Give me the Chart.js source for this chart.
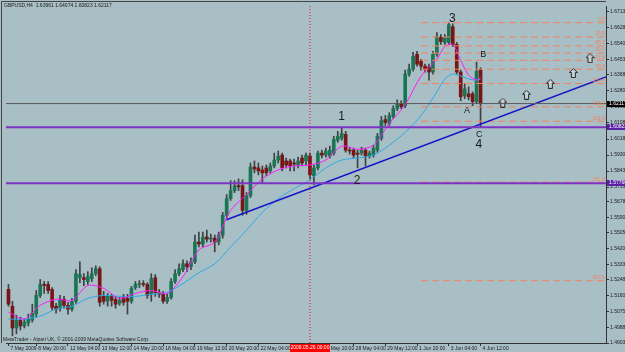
<!DOCTYPE html>
<html>
<head>
<meta charset="utf-8">
<script src="https://cdn.jsdelivr.net/npm/chart.js@4.4.1/dist/chart.umd.min.js"></script>
<style>
  html, body { margin: 0; padding: 0; background: #a9bfc6; }
  canvas { display: block; }
</style>
</head>
<body>
<canvas id="chart" width="625" height="352"></canvas>
<script>
// GBPUSD H4, one entry per bar, oldest first (7 May 2009 .. 4 Jun 2009 12:00)
const opens = [
  1.5196, 1.5104, 1.4985, 1.5028, 1.4996, 1.5012, 1.5028, 1.5061, 1.5163, 1.5223,
  1.5223, 1.5196, 1.5104, 1.5093, 1.5142, 1.5109, 1.5088, 1.5131, 1.5260, 1.5260,
  1.5239, 1.5255, 1.5282, 1.5309, 1.5158, 1.5131, 1.5158, 1.5142, 1.5120, 1.5158,
  1.5147, 1.5131, 1.5206, 1.5223, 1.5228, 1.5223, 1.5169, 1.5260, 1.5179, 1.5169,
  1.5131, 1.5152, 1.5239, 1.5282, 1.5304, 1.5336, 1.5320, 1.5347, 1.5455, 1.5444,
  1.5482, 1.5471, 1.5476, 1.5455, 1.5493, 1.5601, 1.5692, 1.5736, 1.5763, 1.5763,
  1.5628, 1.5709, 1.5865, 1.5860, 1.5849, 1.5860, 1.5844, 1.5871, 1.5903, 1.5930,
  1.5898, 1.5898, 1.5887, 1.5876, 1.5914, 1.5898, 1.5925, 1.5817, 1.5860, 1.5941,
  1.5930, 1.5925, 1.5941, 1.6011, 1.6022, 1.6043, 1.5957, 1.5957, 1.5941, 1.5941,
  1.5957, 1.5925, 1.5930, 1.5957, 1.6022, 1.6124, 1.6103, 1.6141, 1.6184, 1.6211,
  1.6200, 1.6373, 1.6400, 1.6481, 1.6443, 1.6416, 1.6411, 1.6384, 1.6481, 1.6573,
  1.6546, 1.6546, 1.6632, 1.6535, 1.6384, 1.6254, 1.6265, 1.6265, 1.6222, 1.63961
];
const highs = [
  1.5223, 1.5131, 1.5055, 1.5044, 1.5034, 1.5061, 1.5115, 1.5190, 1.5250, 1.5239,
  1.5239, 1.5206, 1.5120, 1.5163, 1.5158, 1.5125, 1.5147, 1.5304, 1.5347, 1.5282,
  1.5293, 1.5314, 1.5325, 1.5320, 1.5185, 1.5174, 1.5169, 1.5158, 1.5152, 1.5169,
  1.5169, 1.5212, 1.5239, 1.5244, 1.5244, 1.5233, 1.5282, 1.5277, 1.5196, 1.5185,
  1.5169, 1.5255, 1.5304, 1.5336, 1.5358, 1.5352, 1.5368, 1.5493, 1.5509, 1.5509,
  1.5520, 1.5498, 1.5493, 1.5509, 1.5617, 1.5714, 1.5790, 1.5790, 1.5800, 1.5795,
  1.5725, 1.5887, 1.5898, 1.5887, 1.5871, 1.5876, 1.5887, 1.5941, 1.5952, 1.5941,
  1.5914, 1.5908, 1.5908, 1.5919, 1.5930, 1.5941, 1.5941, 1.5876, 1.5952, 1.5957,
  1.5968, 1.5979, 1.6033, 1.6060, 1.6081, 1.6060, 1.5973, 1.5968, 1.5957, 1.5973,
  1.5968, 1.5952, 1.5984, 1.6049, 1.6141, 1.6146, 1.6162, 1.6200, 1.6232, 1.6227,
  1.6394, 1.6427, 1.6492, 1.6497, 1.6454, 1.6427, 1.6427, 1.6497, 1.6600, 1.6589,
  1.6589, 1.6654, 1.6648, 1.6546, 1.6394, 1.6319, 1.6303, 1.6276, 1.6438, 1.64074
];
const lows = [
  1.5104, 1.4942, 1.4953, 1.4974, 1.4985, 1.4996, 1.5017, 1.5044, 1.5152, 1.5174,
  1.5174, 1.5082, 1.5066, 1.5077, 1.5093, 1.5061, 1.5077, 1.5120, 1.5233, 1.5217,
  1.5223, 1.5239, 1.5271, 1.5104, 1.5115, 1.5104, 1.5104, 1.5093, 1.5109, 1.5109,
  1.5061, 1.5120, 1.5196, 1.5206, 1.5212, 1.5147, 1.5131, 1.5158, 1.5152, 1.5120,
  1.5120, 1.5142, 1.5228, 1.5271, 1.5293, 1.5293, 1.5304, 1.5336, 1.5428, 1.5428,
  1.5455, 1.5455, 1.5401, 1.5439, 1.5476, 1.5584, 1.5682, 1.5725, 1.5736, 1.5601,
  1.5606, 1.5698, 1.5833, 1.5822, 1.5779, 1.5817, 1.5833, 1.5860, 1.5887, 1.5844,
  1.5860, 1.5844, 1.5844, 1.5860, 1.5871, 1.5876, 1.5800, 1.5768, 1.5849, 1.5914,
  1.5919, 1.5914, 1.5930, 1.6000, 1.6011, 1.5946, 1.5935, 1.5914, 1.5860, 1.5930,
  1.5871, 1.5914, 1.5919, 1.5946, 1.6011, 1.6092, 1.6092, 1.6130, 1.6173, 1.6184,
  1.6189, 1.6362, 1.6389, 1.6416, 1.6394, 1.6384, 1.6340, 1.6373, 1.6470, 1.6535,
  1.6535, 1.6535, 1.6524, 1.6373, 1.6227, 1.6238, 1.6232, 1.6200, 1.6211, 1.60823
];
const closes = [
  1.5115, 1.4985, 1.5028, 1.4996, 1.5017, 1.5034, 1.5066, 1.5163, 1.5223, 1.5217,
  1.5190, 1.5098, 1.5088, 1.5142, 1.5109, 1.5088, 1.5131, 1.5282, 1.5277, 1.5250,
  1.5266, 1.5282, 1.5309, 1.5125, 1.5131, 1.5158, 1.5136, 1.5115, 1.5136, 1.5125,
  1.5131, 1.5201, 1.5223, 1.5228, 1.5223, 1.5163, 1.5255, 1.5179, 1.5169, 1.5131,
  1.5152, 1.5239, 1.5282, 1.5309, 1.5336, 1.5320, 1.5347, 1.5455, 1.5444, 1.5482,
  1.5471, 1.5476, 1.5455, 1.5493, 1.5601, 1.5692, 1.5736, 1.5763, 1.5757, 1.5628,
  1.5709, 1.5865, 1.5854, 1.5844, 1.5833, 1.5833, 1.5871, 1.5903, 1.5925, 1.5860,
  1.5876, 1.5871, 1.5881, 1.5898, 1.5887, 1.5930, 1.5822, 1.5860, 1.5941, 1.5930,
  1.5952, 1.5957, 1.6016, 1.6033, 1.6049, 1.5957, 1.5952, 1.5930, 1.5935, 1.5957,
  1.5925, 1.5941, 1.5968, 1.6033, 1.6119, 1.6108, 1.6146, 1.6184, 1.6211, 1.6195,
  1.6373, 1.6400, 1.6470, 1.6427, 1.6416, 1.6400, 1.6384, 1.6481, 1.6578, 1.6551,
  1.6573, 1.6643, 1.6535, 1.6384, 1.6249, 1.6292, 1.6249, 1.6222, 1.6389, 1.62117
];

// the two moving averages at these bars
const maBars = [0, 4, 8, 12, 16, 20, 24, 28, 32, 36, 40, 44, 48, 52, 56, 60, 64, 68, 72, 76,
  80, 84, 88, 92, 96, 100, 104, 108, 110, 112, 114, 116, 118, 119];
const maFast = [1.5072, 1.5034, 1.5109, 1.5142, 1.5136, 1.5217, 1.5201, 1.5147, 1.5174, 1.5190,
  1.5174, 1.5266, 1.5412, 1.5455, 1.5628, 1.5714, 1.5800, 1.5849, 1.5871, 1.5876,
  1.5903, 1.5979, 1.5962, 1.5984, 1.6103, 1.6205, 1.6362, 1.6454, 1.6524, 1.6535,
  1.6448, 1.6367, 1.6340, 1.6357];
const maSlow = [1.5034, 1.5034, 1.5050, 1.5088, 1.5104, 1.5147, 1.5163, 1.5158, 1.5158, 1.5169,
  1.5179, 1.5228, 1.5287, 1.5336, 1.5428, 1.5520, 1.5617, 1.5692, 1.5746, 1.5795,
  1.5860, 1.5903, 1.5914, 1.5930, 1.5984, 1.6054, 1.6146, 1.6276, 1.6346, 1.6373,
  1.6362, 1.6346, 1.6340, 1.6346];

// axis labels
const priceTicks = [1.67130, 1.66280, 1.65405, 1.64530, 1.63680, 1.62805, 1.61930, 1.61080,
  1.60180, 1.59305, 1.58430, 1.57555, 1.56780, 1.55905, 1.55055, 1.54205, 1.53330,
  1.52480, 1.51605, 1.50755, 1.49880, 1.49030];
const timeTickBars = [0, 7, 15, 23, 31, 39, 47, 55, 63, 71, 79, 87, 95, 103, 111, 119];
const timeTickLabels = ['7 May 2009', '8 May 20:00', '12 May 04:00', '13 May 12:00', '14 May 20:00',
  '18 May 04:00', '19 May 12:00', '20 May 20:00', '22 May 04:00', '25 May 12:00', '26 May 20:00',
  '28 May 04:00', '29 May 12:00', '1 Jun 20:00', '3 Jun 04:00', '4 Jun 12:00'];

// drawn objects
const bidPrice = 1.62117;
const purpleLevels = [1.60823, 1.57760];
const trendBars = [54.95, 150.625];
const trendPrices = [1.5577, 1.6357];
const vlineBar = 76;
const vlineLabel = '2009.05.26 00:00';
const fibLevels = [0, 23.6, 38.2, 50, 61.8, 76.4, 100, 138.2, 161.8, 261.8, 423.6];
const fibHigh = 1.6654;
const fibLow = 1.6321;
const fibStartBar = 104;
const fibBaseBars = [105.9, 119.9];
const arrowBars = [124.6, 130.6, 136.6, 142.4, 146.6];
const arrowPrices = [1.6217, 1.6260, 1.6320, 1.6379, 1.6460];
const waveText = ['1', '2', '3', '4', 'A', 'B', 'C'];
const waveBars = [84, 87.9, 111.9, 118.6, 115.6, 119.7, 118.7];
const wavePrices = [1.6142, 1.5789, 1.6675, 1.5986, 1.6174, 1.6481, 1.6045];

const yMin = 1.4903, yMax = 1.6745;
const xMin = -0.625, xMax = 150.625;

const BG = '#a9bfc6';
const FONT = '"Liberation Sans", Arial, sans-serif';
const fibColor = '#f4825c';

function arrowIcon() {
  const c = document.createElement('canvas');
  c.width = 9; c.height = 10;
  const g = c.getContext('2d');
  g.beginPath();
  g.moveTo(4.5, 0.5); g.lineTo(8.5, 4.5); g.lineTo(6.5, 4.5); g.lineTo(6.5, 9.5);
  g.lineTo(2.5, 9.5); g.lineTo(2.5, 4.5); g.lineTo(0.5, 4.5); g.closePath();
  g.fillStyle = '#c4d2d6'; g.fill();
  g.strokeStyle = '#2a2a2a'; g.lineWidth = 1; g.stroke();
  return c;
}

const bars = opens.map((o, i) => i);
const bodyColors = opens.map((o, i) => closes[i] >= o ? '#1b7453' : '#761616');

const hline = (v, color, width, dash) => ({
  type: 'line', data: [{ x: xMin, y: v }, { x: xMax, y: v }],
  borderColor: color, borderWidth: width, borderDash: dash || [], pointRadius: 0, order: 0
});

const datasets = [
  {
    type: 'bar', label: 'wick', grouped: false, order: 5,
    data: bars.map(i => ({ x: i, y: [lows[i], highs[i]] })),
    backgroundColor: '#404040', barThickness: 1, minBarLength: 1
  },
  {
    type: 'bar', label: 'body', grouped: false, order: 4,
    data: bars.map(i => ({ x: i, y: [opens[i], closes[i]] })),
    backgroundColor: bodyColors, borderWidth: 0, barThickness: 3, minBarLength: 1
  },
  {
    type: 'line', label: 'ma slow', order: 3,
    data: maBars.map((b, k) => ({ x: b, y: maSlow[k] })),
    borderColor: '#2eaae6', borderWidth: 1, pointRadius: 0, tension: 0.3
  },
  {
    type: 'line', label: 'ma fast', order: 2,
    data: maBars.map((b, k) => ({ x: b, y: maFast[k] })),
    borderColor: '#ff1aff', borderWidth: 1, pointRadius: 0, tension: 0.3
  },
  hline(bidPrice, '#5a5a5a', 1),
  ...purpleLevels.map(v => hline(v, '#7b34c4', 2)),
  ...fibLevels.map(l => {
    const v = fibHigh - l / 100 * (fibHigh - fibLow);
    return {
      type: 'line', data: [{ x: fibStartBar, y: v }, { x: xMax, y: v }],
      borderColor: fibColor, borderWidth: 1, borderDash: [7, 4], pointRadius: 0, order: 1
    };
  }),
  {
    type: 'line', data: [{ x: fibBaseBars[0], y: fibLow }, { x: fibBaseBars[1], y: fibHigh }],
    borderColor: fibColor, borderWidth: 1, borderDash: [1, 2], pointRadius: 0, order: 1
  },
  {
    type: 'line', data: [{ x: trendBars[0], y: trendPrices[0] }, { x: trendBars[1], y: trendPrices[1] }],
    borderColor: '#1616c8', borderWidth: 1.5, pointRadius: 0, order: 0
  },
  {
    type: 'line', data: [{ x: vlineBar, y: yMin }, { x: vlineBar, y: yMax }],
    borderColor: '#ff0000', borderWidth: 1, borderDash: [1, 2], pointRadius: 0, order: 0
  },
  {
    type: 'scatter', data: arrowBars.map((b, k) => ({ x: b, y: arrowPrices[k] })),
    pointStyle: arrowIcon(), pointRadius: 5, order: 0
  }
];

const overlay = {
  id: 'overlay',
  beforeDraw(chart) {
    const ctx = chart.ctx;
    ctx.save();
    ctx.fillStyle = BG;
    ctx.fillRect(0, 0, chart.width, chart.height);
    ctx.restore();
  },
  afterDraw(chart) {
    const ctx = chart.ctx;
    const xs = chart.scales.x, ys = chart.scales.y;
    const area = chart.chartArea;
    ctx.save();

    // frame on the left and top
    ctx.strokeStyle = '#444';
    ctx.lineWidth = 1;
    ctx.beginPath();
    ctx.moveTo(1.5, area.bottom); ctx.lineTo(1.5, 1.5); ctx.lineTo(area.right, 1.5);
    ctx.stroke();

    // fibo level names
    ctx.font = '5px ' + FONT;
    ctx.fillStyle = fibColor;
    ctx.textAlign = 'right';
    ctx.textBaseline = 'bottom';
    fibLevels.forEach(l => {
      const v = fibHigh - l / 100 * (fibHigh - fibLow);
      ctx.fillText(l.toFixed(1), area.right - 1, ys.getPixelForValue(v) - 0.5);
    });

    // wave counts
    ctx.fillStyle = '#1a1a1a';
    ctx.textAlign = 'center';
    ctx.textBaseline = 'middle';
    waveText.forEach((t, k) => {
      ctx.font = (/[0-9]/.test(t) ? 12 : 9) + 'px ' + FONT;
      ctx.fillText(t, xs.getPixelForValue(waveBars[k]), ys.getPixelForValue(wavePrices[k]));
    });

    // header and footer
    ctx.font = '5px ' + FONT;
    ctx.textAlign = 'left';
    ctx.textBaseline = 'top';
    ctx.fillStyle = '#1a1a1a';
    ctx.fillText('GBPUSD,H4  ' + [opens[119], highs[119], lows[119], closes[119]].map(v => v.toFixed(5)).join(' '), 4, 3);
    ctx.fillText('MetaTrader - Alpari UK, \u00a9 2001-2009 MetaQuotes Software Corp.', 3, 337);

    // price boxes on the axis
    const box = (v, bg) => {
      const y = Math.round(ys.getPixelForValue(v));
      ctx.fillStyle = bg;
      ctx.fillRect(area.right + 1, y - 3, chart.width - area.right - 1, 6);
      ctx.fillStyle = '#fff';
      ctx.textBaseline = 'middle';
      ctx.fillText(v.toFixed(5), area.right + 3, y);
    };
    box(bidPrice, '#000');
    purpleLevels.forEach(v => box(v, '#5b22a6'));

    // date box for the vertical line
    const vx = xs.getPixelForValue(vlineBar);
    ctx.fillStyle = '#ff0000';
    ctx.fillRect(vx - 20, area.bottom + 1, 40, chart.height - area.bottom - 1);
    ctx.fillStyle = '#fff';
    ctx.textAlign = 'center';
    ctx.textBaseline = 'middle';
    ctx.fillText(vlineLabel, vx, area.bottom + 5);
    ctx.restore();
  }
};

new Chart(document.getElementById('chart'), {
  type: 'bar',
  data: { datasets },
  options: {
    responsive: false,
    animation: false,
    events: [],
    layout: { padding: { left: 1, top: 1, right: 0, bottom: 0 } },
    plugins: { legend: { display: false }, tooltip: { enabled: false } },
    scales: {
      x: {
        type: 'linear', min: xMin, max: xMax, offset: false,
        afterBuildTicks: s => { s.ticks = timeTickBars.map(b => ({ value: b })); },
        afterFit: s => { s.height = 9; s.paddingLeft = 0; s.paddingRight = 0; },
        ticks: {
          autoSkip: false, maxRotation: 0, align: 'start', labelOffset: 2, padding: 0,
          color: '#1a1a1a', font: { family: FONT, size: 5 },
          callback: (v, i) => timeTickLabels[i]
        },
        grid: { drawOnChartArea: false, tickLength: 3, color: '#333', offset: false },
        border: { color: '#333' }
      },
      y: {
        position: 'right', min: yMin, max: yMax,
        afterBuildTicks: s => { s.ticks = priceTicks.map(v => ({ value: v })); },
        afterFit: s => { s.width = 19; s.paddingTop = 0; s.paddingBottom = 0; },
        ticks: {
          autoSkip: false, padding: 1, color: '#1a1a1a', font: { family: FONT, size: 5 },
          callback: v => v.toFixed(5)
        },
        grid: { drawOnChartArea: false, tickLength: 3, color: '#333' },
        border: { color: '#333' }
      }
    }
  },
  plugins: [overlay]
});
</script>
</body>
</html>
